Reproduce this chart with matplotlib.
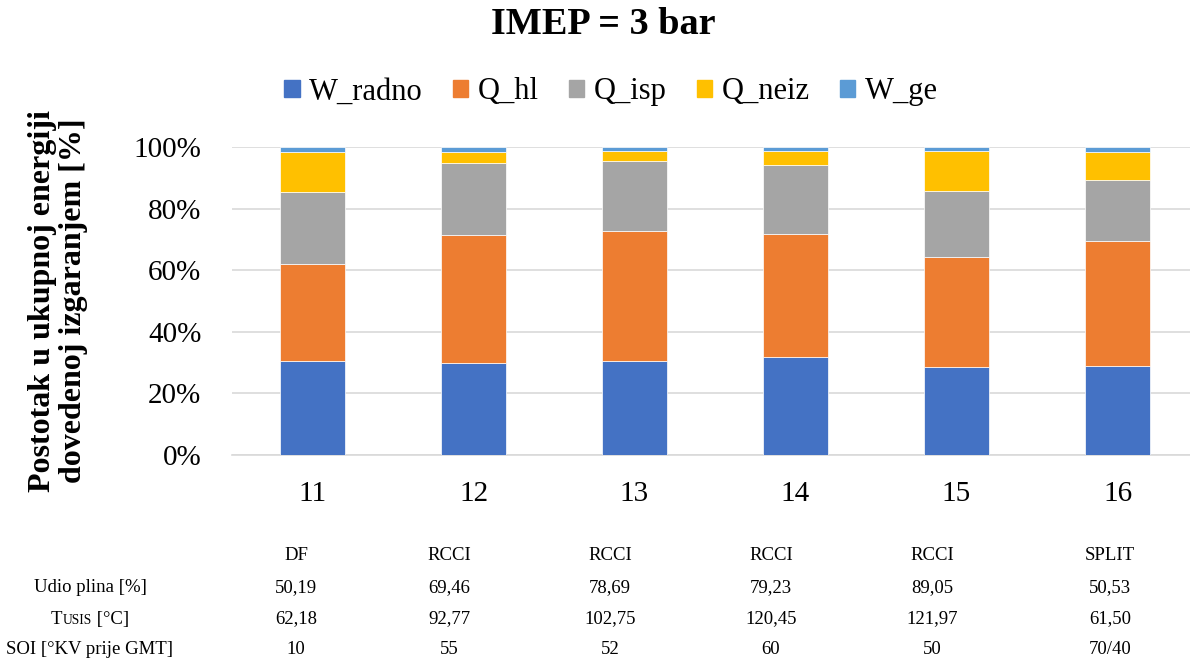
##############################################
### Podaci

import numpy as np
import matplotlib
matplotlib.use('Agg')
import matplotlib.pyplot as plt
import matplotlib.patches as mpatches

plt.rcParams['font.family'] = ['Liberation Serif', 'DejaVu Serif']

kategorije = ['11', '12', '13', '14', '15', '16']

w_radno = [30.5, 29.9, 30.5, 31.8, 28.6, 28.9]
q_hl    = [31.5, 41.5, 42.2, 40.0, 35.7, 40.6]
q_isp   = [23.4, 23.4, 22.9, 22.3, 21.3, 19.8]
q_neiz  = [13.1, 3.6, 3.0, 4.6, 13.1, 9.2]
w_ge    = [1.5, 1.6, 1.4, 1.3, 1.3, 1.5]

serije = ['W_radno', 'Q_hl', 'Q_isp', 'Q_neiz', 'W_ge']
boje   = ['#4472C4', '#ED7D31', '#A5A5A5', '#FFC000', '#5B9BD5']

# tablica ispod grafa
nacin      = ['DF', 'RCCI', 'RCCI', 'RCCI', 'RCCI', 'SPLIT']
udio_plina = ['50,19', '69,46', '78,69', '79,23', '89,05', '50,53']
t_usis     = ['62,18', '92,77', '102,75', '120,45', '121,97', '61,50']
soi        = ['10', '55', '52', '60', '50', '70/40']

###############################################
### Crtanje

W, H = 1190, 666
fig = plt.figure(figsize=(W/100, H/100), dpi=100)
ax = fig.add_axes([232/W, 1-455/H, 1-232/W, 308/H])

x = np.arange(len(kategorije))
podaci = [w_radno, q_hl, q_isp, q_neiz, w_ge]
dno = np.zeros(len(x))
for ime, vr, boja in zip(serije, podaci, boje):
    vr = np.array(vr)/100.0
    ax.bar(x, vr, 0.4, bottom=dno, color=boja, edgecolor='white', linewidth=0.5,
           label=ime, zorder=3)
    dno += vr

ax.set_xlim(-0.5, (W-232)/161.0 - 0.5)
ax.set_ylim(0, 1)
ax.set_yticks(np.arange(0, 1.01, 0.2))
ax.set_yticklabels(['%d%%' % v for v in range(0, 101, 20)])
ax.set_xticks(x)
ax.set_xticklabels(kategorije)
ax.tick_params(axis='y', length=0, pad=22, labelsize=21)
ax.tick_params(axis='x', length=0, pad=19, labelsize=21)
ax.grid(axis='y', color='#D9D9D9', linewidth=1.2, zorder=0)
for s in ['top', 'right', 'left']:
    ax.spines[s].set_visible(False)
ax.spines['bottom'].set_color('#D9D9D9')
ax.spines['bottom'].set_linewidth(1.2)

###############################################
### Naslov, legenda, os

fig.text(603/W, 1-25/H, 'IMEP = 3 bar', ha='center', va='center',
         fontsize=27.5, fontweight='bold')

ruke = [mpatches.Patch(color=b, label=s) for s, b in zip(serije, boje)]
fig.legend(handles=ruke, loc='center', bbox_to_anchor=(611/W, 1-92/H), ncol=5,
           frameon=False, fontsize=22, handlelength=0.5, handleheight=0.5,
           handletextpad=0.3, columnspacing=1.0)

fig.text(58/W, 1-301/H, 'Postotak u ukupnoj energiji\ndovedenoj izgaranjem [%]',
         rotation=90, ha='center', va='center', multialignment='center',
         fontsize=23, fontweight='bold', linespacing=1.1)

###############################################
### Tablica

stupci = [296, 449, 610, 771, 932, 1110]
redovi = [556, 588, 619, 650]
fs = 13.5

for r, vrijednosti in zip(redovi, [nacin, udio_plina, t_usis, soi]):
    for cx, v in zip(stupci, vrijednosti):
        fig.text(cx/W, 1-r/H, v, ha='center', va='center', fontsize=fs)

fig.text(90/W, 1-redovi[1]/H, 'Udio plina [%]', ha='center', va='center', fontsize=fs)
fig.text(90/W, 1-redovi[3]/H, 'SOI [°KV prije GMT]', ha='center', va='center', fontsize=fs)

# T_USIS - malo "USIS" na istoj osnovnoj liniji
rend = fig.canvas.get_renderer()
dijelovi = [('T', fs), ('USIS', fs*0.72), (' [°C]', fs)]
yb = 1-(redovi[2]+5)/H
tekstovi = []
xp = 0.0
for txt, f in dijelovi:
    t = fig.text(xp, yb, txt, ha='left', va='baseline', fontsize=f)
    sirina = t.get_window_extent(rend).width/W
    tekstovi.append((t, xp))
    xp += sirina
pocetak = 90/W - xp/2
for t, off in tekstovi:
    t.set_x(pocetak + off)

plt.savefig('out.png', dpi=100)
